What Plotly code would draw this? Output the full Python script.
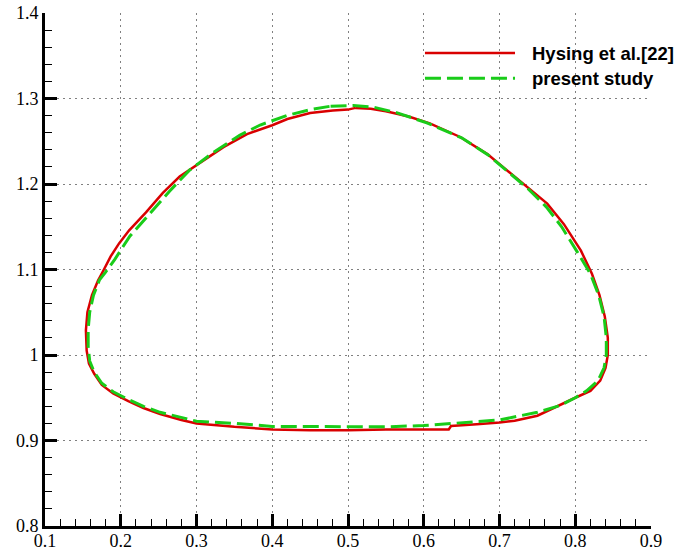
import plotly.graph_objects as go

# Bubble interface contours (x, y)
hysing_x = [0.51, 0.53, 0.55, 0.58, 0.608, 0.648, 0.684, 0.710, 0.737, 0.763, 0.785, 0.8075,
            0.822, 0.832, 0.839, 0.843, 0.843, 0.840, 0.833, 0.82, 0.80, 0.77, 0.75, 0.72,
            0.70, 0.67, 0.636, 0.633, 0.60, 0.55, 0.50, 0.45, 0.40, 0.35, 0.30, 0.28, 0.252,
            0.23, 0.21, 0.19, 0.175, 0.165, 0.158, 0.155, 0.154, 0.156, 0.162, 0.17, 0.1778,
            0.1867, 0.1978, 0.2111, 0.2333, 0.2556, 0.2778, 0.30, 0.3356, 0.3667, 0.40, 0.42,
            0.45, 0.48, 0.50, 0.51]
hysing_y = [1.289, 1.288, 1.285, 1.279, 1.271, 1.255, 1.235, 1.216, 1.196, 1.177, 1.153, 1.122,
            1.095, 1.07, 1.045, 1.02, 1.0, 0.985, 0.97, 0.958, 0.95, 0.937, 0.929, 0.923,
            0.921, 0.919, 0.917, 0.913, 0.913, 0.913, 0.912, 0.912, 0.913, 0.916, 0.920, 0.924,
            0.931, 0.938, 0.946, 0.955, 0.965, 0.978, 0.99, 1.005, 1.029, 1.05, 1.07, 1.087, 1.1,
            1.1153, 1.1305, 1.1458, 1.1668, 1.1897, 1.2088, 1.2221, 1.2431, 1.2584, 1.2687, 1.276,
            1.283, 1.286, 1.287, 1.289]

present_x = [0.477, 0.507, 0.533, 0.564, 0.604, 0.65, 0.685, 0.71, 0.737, 0.762, 0.782, 0.803,
             0.82, 0.831, 0.838, 0.841, 0.841, 0.838, 0.83, 0.815, 0.80, 0.78, 0.75, 0.70,
             0.65, 0.60, 0.55, 0.50, 0.45, 0.40, 0.35, 0.30, 0.252, 0.23, 0.21, 0.19, 0.175,
             0.165, 0.159, 0.157, 0.157, 0.159, 0.164, 0.172, 0.18, 0.1924, 0.212, 0.2387,
             0.2644, 0.2911, 0.32, 0.357, 0.384, 0.419, 0.45, 0.477]
present_y = [1.291, 1.2918, 1.29, 1.2835, 1.2715, 1.254, 1.234, 1.215, 1.195, 1.173, 1.15, 1.12,
             1.095, 1.07, 1.045, 1.02, 1.0, 0.985, 0.97, 0.958, 0.95, 0.941, 0.933, 0.924,
             0.921, 0.9175, 0.916, 0.916, 0.916, 0.9165, 0.920, 0.9226, 0.933, 0.94, 0.948,
             0.957, 0.967, 0.98, 0.993, 1.01, 1.03, 1.05, 1.07, 1.088, 1.097, 1.1122, 1.139,
             1.1656, 1.1916, 1.2164, 1.2355, 1.257, 1.269, 1.28, 1.287, 1.291]

x_ticks = [0.1, 0.2, 0.3, 0.4, 0.5, 0.6, 0.7, 0.8, 0.9]
x_labels = ["0.1", "0.2", "0.3", "0.4", "0.5", "0.6", "0.7", "0.8", "0.9"]
y_ticks = [0.8, 0.9, 1.0, 1.1, 1.2, 1.3, 1.4]
y_labels = ["0.8", "0.9", "1", "1.1", "1.2", "1.3", "1.4"]

series_names = ["Hysing et al.[22]", "present study"]
red = "#d90000"
green = "#19cc19"
green_dash = "16px,6px"

fig = go.Figure()
fig.add_trace(go.Scatter(x=hysing_x, y=hysing_y, mode="lines",
                         line=dict(color=red, width=2.5), name=series_names[0],
                         showlegend=False))
fig.add_trace(go.Scatter(x=present_x, y=present_y, mode="lines",
                         line=dict(color=green, width=3, dash=green_dash),
                         name=series_names[1], showlegend=False))

tick_font = dict(family="'Liberation Serif', 'Times New Roman', serif", size=18, color="black")
grid = dict(showgrid=True, gridcolor="#808080", gridwidth=1, griddash="2px,4px")
axis_common = dict(ticks="inside", ticklen=12, tickwidth=3, tickcolor="black",
                   showline=True, linecolor="black", linewidth=3, automargin=False,
                   minor=dict(ticks="inside", ticklen=7, tickwidth=1, tickcolor="black",
                              dtick=0.02, showgrid=False),
                   tickfont=tick_font, zeroline=False, **grid)

fig.update_xaxes(range=[0.1, 0.9], tickvals=x_ticks, ticktext=x_labels,
                 ticklabelstandoff=-4, **axis_common)
fig.update_yaxes(range=[0.8, 1.4], tickvals=y_ticks, ticktext=y_labels, **axis_common)

# Hand-built legend: long line samples with bold labels
legend_rows = [(0.922, red, "solid", 2.5), (0.873, green, green_dash, 3)]
for (py, col, dash, w), name in zip(legend_rows, series_names):
    fig.add_shape(type="line", xref="paper", yref="paper", x0=0.627, x1=0.7756,
                  y0=py, y1=py, line=dict(color=col, width=w, dash=dash))
    fig.add_annotation(xref="paper", yref="paper", x=0.800, y=py, text="<b>%s</b>" % name,
                       showarrow=False, xanchor="left", yanchor="middle",
                       font=dict(family="'Liberation Sans', Arial, sans-serif", size=18.5,
                                 color="black"))

fig.update_layout(width=684, height=556, margin=dict(l=45, r=33, t=13, b=30),
                  plot_bgcolor="white", paper_bgcolor="white")

fig.write_html("out.html")
